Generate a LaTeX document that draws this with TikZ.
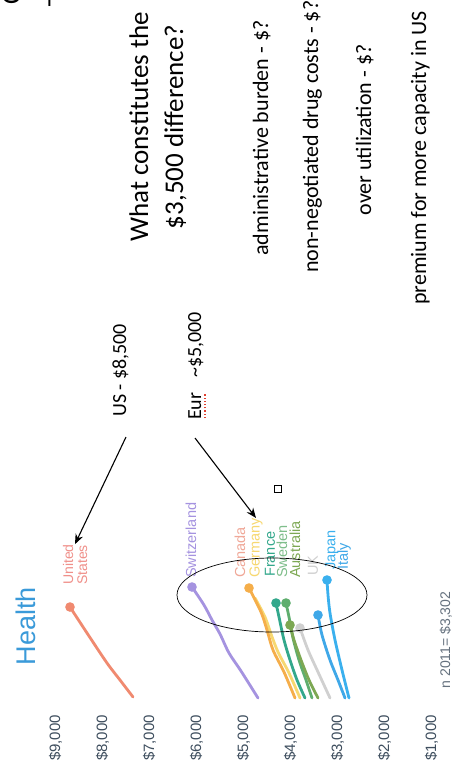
\documentclass[tikz,border=0pt]{standalone}
\usepackage{fontspec}
\setmainfont{Carlito}
\newfontfamily\chartfont{Liberation Sans}
\usetikzlibrary{arrows.meta}
\definecolor{usred}{HTML}{F08A70}
\definecolor{uslbl}{HTML}{F0908A}
\definecolor{swpurple}{HTML}{A593E0}
\definecolor{caorange}{HTML}{F5AE4A}
\definecolor{calbl}{HTML}{F0A898}
\definecolor{deyellow}{HTML}{F7D870}
\definecolor{frteal}{HTML}{33A88C}
\definecolor{segreen}{HTML}{5FAE6E}
\definecolor{augreen}{HTML}{7DA853}
\definecolor{ukgray}{HTML}{D0D0D0}
\definecolor{jpblue}{HTML}{3AB0EE}
\definecolor{itblue}{HTML}{3FA8E8}
\definecolor{axisgray}{HTML}{3E4E5E}
\definecolor{titleblue}{HTML}{3A9AD9}
\definecolor{squiggle}{HTML}{E04030}
\tikzset{
  bigtxt/.style={rotate=90, font=\fontsize{27}{30}\selectfont, inner sep=0pt},
  midtxt/.style={rotate=90, font=\fontsize{22}{26}\selectfont, inner sep=0pt},
  lbltxt/.style={rotate=90, font=\fontsize{20}{24}\selectfont, inner sep=0pt},
  axlbl/.style={rotate=90, font=\chartfont\fontsize{15}{17}\selectfont, text=axisgray, inner sep=0pt, anchor=base},
  ctry/.style={rotate=90, font=\chartfont\fontsize{14.5}{16}\selectfont, inner sep=0pt, anchor=west},
  dataline/.style={line width=2.8pt, line cap=round, line join=round},
  endpt/.style={circle, draw, line width=1.5pt, fill=white, minimum size=8pt, inner sep=0pt},
  pointer/.style={-{Stealth[length=10pt,width=8pt]}, line width=1.1pt},
}
\begin{document}
\begin{tikzpicture}[x=1pt,y=-1pt]
\useasboundingbox (0,0) rectangle (457,780);
\fill[white] (0,0) rectangle (457,780);

% cut-off fragments at top-left
\node[bigtxt, anchor=base west] (frag1) at (20,5) {C};
\node[bigtxt, anchor=base west] (frag2) at (57,8) {-};

% question text
\node[bigtxt, anchor=base] (q1) at (148,127) {What constitutes the};
\node[bigtxt, anchor=base] (q2) at (183,127) {\$3,500 difference?};
\node[midtxt, anchor=base] (admin) at (268,138) {administrative burden - \$?};
\node[midtxt, anchor=base west] (drug) at (318,273) {non-negotiated drug costs - \$?};
\node[midtxt, anchor=base] (util) at (371,130) {over utilization - \$?};
\node[midtxt, anchor=base west] (prem) at (426,305) {premium for more capacity in US};

% US / Eur
\node[lbltxt, anchor=base west] (us) at (126,417) {US - \$8,500};
\node[lbltxt, anchor=base west] (eur) at (201,420) {Eur\hspace{0.75em}\textasciitilde\$5,000};
\draw[squiggle, line width=1.2pt, dotted] (205,418) -- (205,394);

% chart title and axis
\node[rotate=90, font=\chartfont\fontsize{27}{30}\selectfont, text=titleblue, inner sep=0pt, anchor=base] (title) at (35,626) {Health};
\node[axlbl] (a9) at (60,738) {\$9,000};
\node[axlbl] (a8) at (107,738) {\$8,000};
\node[axlbl] (a7) at (154,738) {\$7,000};
\node[axlbl] (a6) at (201,738) {\$6,000};
\node[axlbl] (a5) at (248,738) {\$5,000};
\node[axlbl] (a4) at (295,738) {\$4,000};
\node[axlbl] (a3) at (342,738) {\$3,000};
\node[axlbl] (a2) at (389,738) {\$2,000};
\node[axlbl] (a1) at (436,738) {\$1,000};
\node[rotate=90, font=\chartfont\fontsize{14}{16}\selectfont, text=axisgray!80, inner sep=0pt, anchor=base] (note) at (450,640) {n 2011= \$3,302};

% data lines
\draw[dataline, usred] plot[smooth] coordinates {(70,607) (87,633) (107,663) (120,680) (133,697)};
\draw[dataline, swpurple] plot[smooth] coordinates {(192,587) (204,605) (212,620) (220,634) (229,653) (241,671) (258,698)};
\draw[dataline, deyellow] plot[smooth] coordinates {(255,598) (265,617) (271,634) (278,652) (289,673) (300,698)};
\draw[dataline, caorange] plot[smooth] coordinates {(249,588) (261,612) (267,630) (273,650) (284,672) (295,698)};
\draw[dataline, frteal] plot[smooth] coordinates {(276,603) (279,617) (284,640) (290,660) (297,680) (305,698)};
\draw[dataline, segreen] plot[smooth] coordinates {(286,603) (289,617) (293,638) (299,660) (306,680) (312,698)};
\draw[dataline, augreen] plot[smooth] coordinates {(290,625) (294,640) (301,660) (309,680) (318,698)};
\draw[dataline, ukgray] plot[smooth] coordinates {(300,628) (308,650) (318,672) (330,698)};
\draw[dataline, itblue] plot[smooth] coordinates {(318,615) (322,635) (330,660) (338,680) (345,698)};
\draw[dataline, jpblue] plot[smooth] coordinates {(327,580) (328,595) (330,613) (335,640) (342,670) (349,698)};

% end points
\node[endpt, usred] (pUS) at (70,607) {};
\node[endpt, swpurple] (pSW) at (192,587) {};
\node[endpt, caorange] (pCA) at (249,588) {};
\node[endpt, frteal] (pFR) at (276,603) {};
\node[endpt, segreen] (pSE) at (286,603) {};
\node[endpt, augreen] (pAU) at (290,625) {};
\node[endpt, ukgray] (pUK) at (300,628) {};
\node[endpt, itblue] (pIT) at (318,615) {};
\node[endpt, jpblue] (pJP) at (327,580) {};

% country labels
\node[ctry, text=uslbl, align=left, font=\chartfont\fontsize{14}{14}\selectfont] (usa) at (75,585) {United\\States};
\node[ctry, text=swpurple] (switz) at (191,578) {Switzerland};
\node[ctry, text=calbl] (canada) at (240,578) {Canada};
\node[ctry, text=deyellow] (germany) at (256,578) {Germany};
\node[ctry, text=frteal] (france) at (270,577) {France};
\node[ctry, text=segreen!80] (sweden) at (282,578) {Sweden};
\node[ctry, text=augreen] (australia) at (295,578) {Australia};
\node[ctry, text=ukgray] (uk) at (313,576) {UK};
\node[ctry, text=jpblue] (japan) at (332,570) {Japan};
\node[ctry, text=itblue] (italy) at (344,570) {Italy};

% ellipse
\draw[line width=0.7pt] (272,595) ellipse [x radius=95, y radius=37];

% arrows
\coordinate (usstart) at (126,437);
\coordinate (eurstart) at (195,438);
\draw[pointer] (usstart) -- (usa.east);
\draw[pointer] (eurstart) -- (germany.east);

% small square
\node[draw, line width=0.7pt, minimum size=7pt, inner sep=0pt] (sq) at (278,489) {};
\end{tikzpicture}
\end{document}
